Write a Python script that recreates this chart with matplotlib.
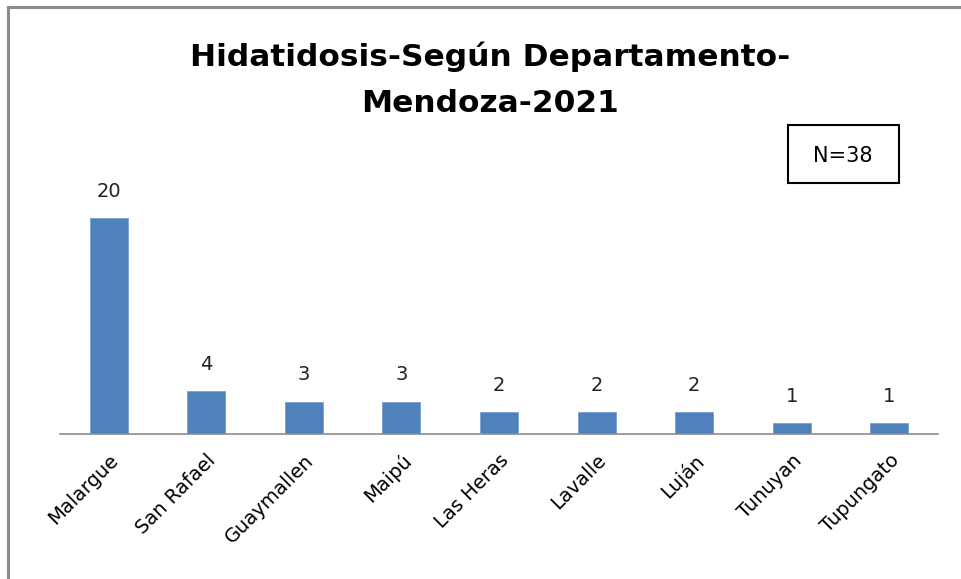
import matplotlib.pyplot as plt
from matplotlib.patches import Rectangle
from matplotlib.lines import Line2D

departamentos = ["Malargue", "San Rafael", "Guaymallen", "Maipú", "Las Heras",
                 "Lavalle", "Luján", "Tunuyan", "Tupungato"]
casos = [20, 4, 3, 3, 2, 2, 2, 1, 1]
titulo = "Hidatidosis-Según Departamento-\nMendoza-2021"
total_txt = "N=38"

W, H = 961, 579
fig = plt.figure(figsize=(W / 100, H / 100), dpi=100)
fig.patch.set_facecolor("white")

# marco gris (solo arriba e izquierda visibles)
fig.add_artist(Line2D([7.5 / W, 7.5 / W], [0, 1 - 7 / H], color="#8c8c8c", lw=2.2,
                      transform=fig.transFigure))
fig.add_artist(Line2D([7.5 / W, 1], [1 - 7 / H, 1 - 7 / H], color="#8c8c8c", lw=2.2,
                      transform=fig.transFigure))

ax = fig.add_axes([60 / W, 1 - 434 / H, 878 / W, 324 / H])
x = range(len(departamentos))
ax.bar(x, casos, width=0.39, color="#4F81BD", edgecolor="#7aa0d0", linewidth=0.6)
for xi, v in zip(x, casos):
    ax.text(xi, v + 1.6, str(v), ha="center", va="bottom", fontsize=14, color="#222222")

ax.set_xlim(-0.5, len(departamentos) - 0.5)
ax.set_ylim(0, 30)
ax.set_yticks([])
for s in ["top", "right", "left"]:
    ax.spines[s].set_visible(False)
ax.spines["bottom"].set_color("#8c8c8c")
ax.spines["bottom"].set_linewidth(1.2)
ax.set_xticks(list(x))
ax.set_xticklabels(departamentos, rotation=45, ha="right", va="top",
                   rotation_mode="anchor", fontsize=14)
ax.tick_params(axis="x", length=0, pad=12)

fig.text(490 / W, 1 - 80 / H, titulo, ha="center", va="center", fontsize=22.5,
         fontweight="bold", linespacing=1.75, color="black")

fig.add_artist(Rectangle((788 / W, 1 - 183 / H), 111 / W, 58 / H, fill=False,
                         edgecolor="black", lw=1.5, transform=fig.transFigure))
fig.text(843 / W, 1 - 156 / H, total_txt, ha="center", va="center", fontsize=15)

fig.savefig("out.png", dpi=100)
